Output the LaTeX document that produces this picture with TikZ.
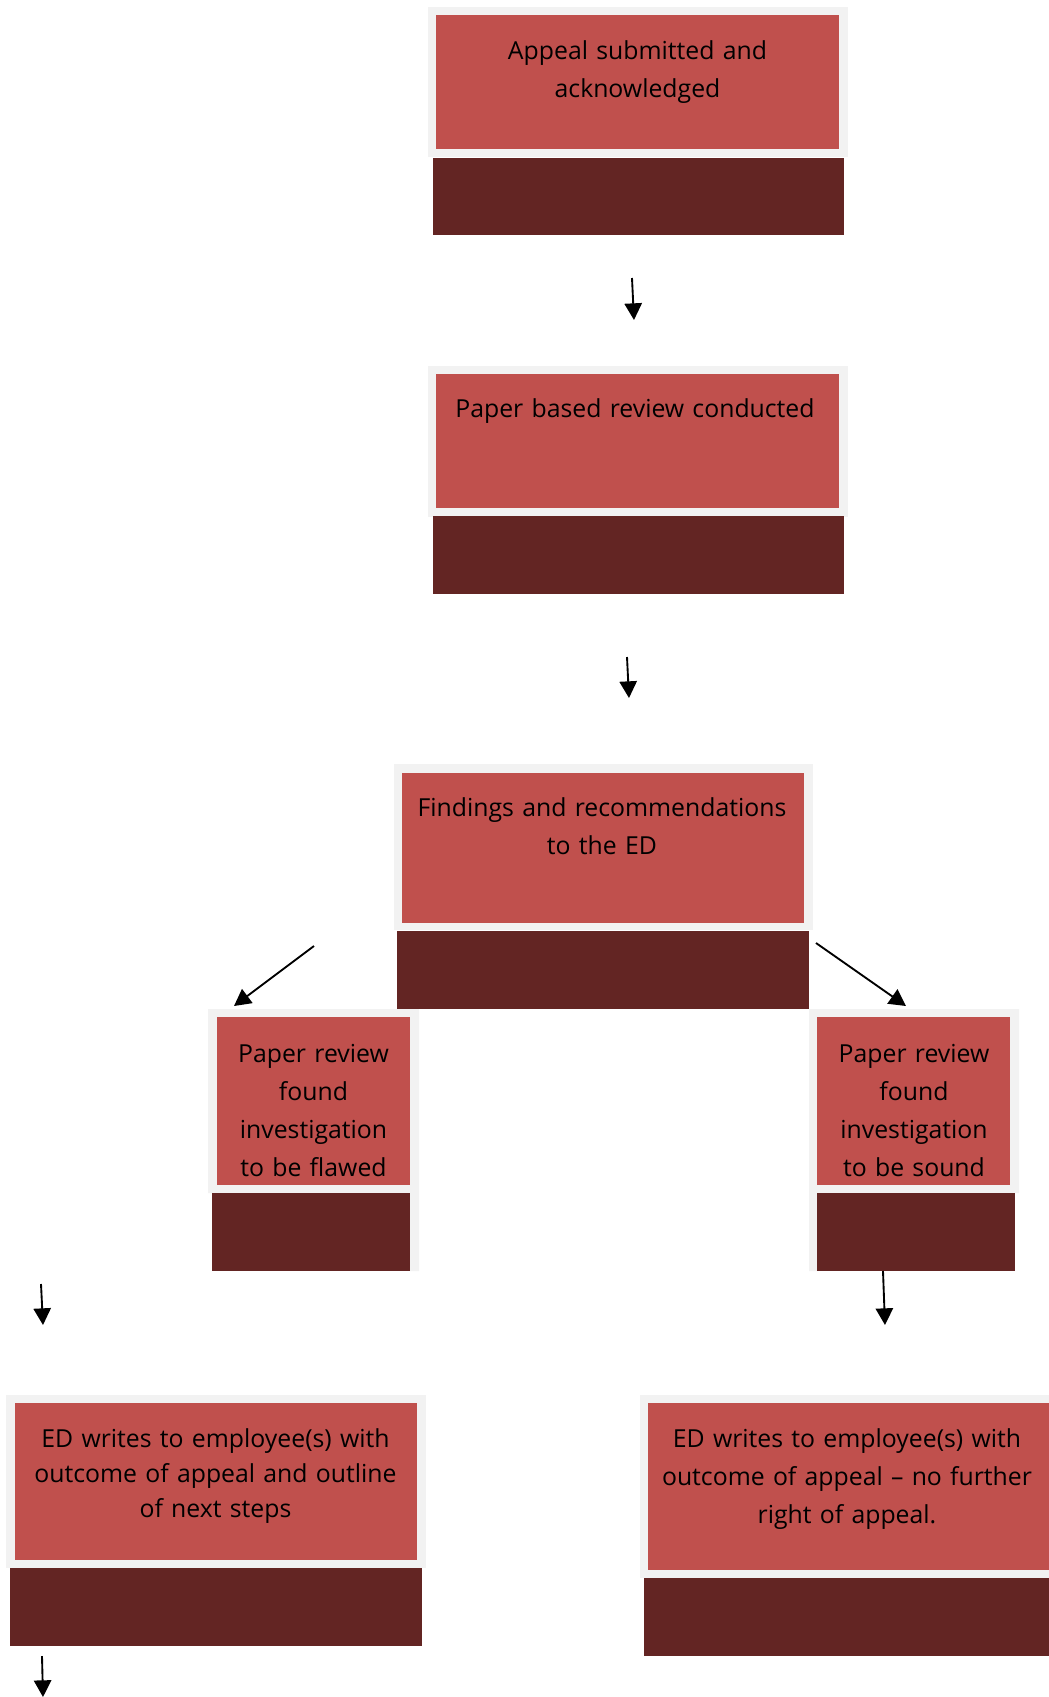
\documentclass[tikz,border=0pt]{standalone}
\usepackage{fontspec}
\setmainfont{Open Sans}
\usetikzlibrary{arrows.meta,fit}
\definecolor{boxred}{HTML}{C0504D}
\definecolor{boxdark}{HTML}{632523}
\definecolor{boxframe}{HTML}{F2F2F2}
\begin{document}
\begin{tikzpicture}[x=0.75pt,y=-0.75pt,
  framebox/.style={fill=boxframe, draw=none, inner sep=0pt},
  redbox/.style={fill=boxred, draw=none, inner sep=0pt},
  darkbox/.style={fill=boxdark, draw=none, inner sep=0pt},
  txt/.style={anchor=base, inner sep=0pt, text width=300pt, align=center,
              font=\fontsize{18.6}{28.5}\selectfont, text=black},
  txtsm/.style={txt, font=\fontsize{18.6}{26.25}\selectfont},
  arr/.style={-{Triangle[length=12.5pt,width=13pt]}, line width=1.4pt, draw=black}]
\useasboundingbox (0,0) rectangle (1049,1697);

% Box 1
\node[framebox, fit={(428,7) (848,157)}] (g1) {};
\node[redbox, fit={(436,15) (839,149)}] (r1) {};
\node[darkbox, fit={(433,158) (844,235)}] (d1) {};
\node[txt] (t1) at (637.5,59) {Appeal submitted and\\acknowledged};

% Box 2
\node[framebox, fit={(428,366) (848,517)}] (g2) {};
\node[redbox, fit={(436,374) (839,508)}] (r2) {};
\node[darkbox, fit={(433,516) (844,594)}] (d2) {};
\node[txt] (t2) at (635,417) {Paper based review conducted};

% Box 3
\node[framebox, fit={(394,764) (813,930)}] (g3) {};
\node[redbox, fit={(402,773) (804,923)}] (r3) {};
\node[darkbox, fit={(397,931) (809,1009)}] (d3) {};
\node[txt] (t3) at (602,816) {Findings and recommendations\\to the ED};

% Box 4 (left)
\fill[boxframe] (208,1009) -- (419,1009) -- (419,1271) -- (410,1271) -- (410,1193) -- (208,1193) -- cycle;
\node[redbox, fit={(217,1017) (410,1185)}] (r4) {};
\node[darkbox, fit={(212,1193) (410,1271)}] (d4) {};
\node[txt] (t4) at (313.5,1062) {Paper review\\found\\investigation\\to be flawed};

% Box 5 (right)
\fill[boxframe] (809,1009) -- (1019,1009) -- (1019,1193) -- (817,1193) -- (817,1271) -- (809,1271) -- cycle;
\node[redbox, fit={(817,1017) (1010,1185)}] (r5) {};
\node[darkbox, fit={(817,1193) (1015,1271)}] (d5) {};
\node[txt] (t5) at (914,1062) {Paper review\\found\\investigation\\to be sound};

% Box 6 (bottom left)
\node[framebox, fit={(6,1395) (426,1568)}] (g6) {};
\node[redbox, fit={(15,1403) (417,1560)}] (r6) {};
\node[darkbox, fit={(10,1568) (422,1646)}] (d6) {};
\node[txtsm] (t6) at (215.5,1447) {ED writes to employee(s) with\\outcome of appeal and outline\\of next steps};

% Box 7 (bottom right)
\node[framebox, fit={(640,1395) (1049,1578)}] (g7) {};
\node[redbox, fit={(648,1403) (1049,1570)}] (r7) {};
\node[darkbox, fit={(644,1578) (1049,1656)}] (d7) {};
\node[txt] (t7) at (847,1447) {ED writes to employee(s) with\\outcome of appeal \textendash\ no further\\right of appeal.};

% Arrow end points
\coordinate (a1s) at (632,278);  \coordinate (a1e) at (634,320);
\coordinate (a2s) at (627,657);  \coordinate (a2e) at (629,698);
\coordinate (a3s) at (314,946);  \coordinate (a3e) at (234,1006);
\coordinate (a4s) at (816,943);  \coordinate (a4e) at (906,1006);
\coordinate (a5s) at (41,1284);  \coordinate (a5e) at (43,1325);
\coordinate (a6s) at (883,1271); \coordinate (a6e) at (885,1325);
\coordinate (a7s) at (42,1656);  \coordinate (a7e) at (43,1697);

\draw[arr] (a1s) -- (a1e);
\draw[arr] (a2s) -- (a2e);
\draw[arr] (a3s) -- (a3e);
\draw[arr] (a4s) -- (a4e);
\draw[arr] (a5s) -- (a5e);
\draw[arr] (a6s) -- (a6e);
\draw[arr] (a7s) -- (a7e);
\end{tikzpicture}
\end{document}
